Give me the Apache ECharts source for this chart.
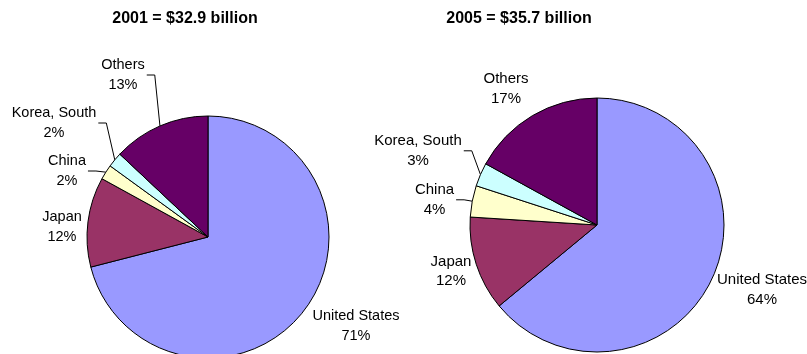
<!DOCTYPE html>
<html>
<head>
<meta charset="utf-8">
<script src="https://cdn.jsdelivr.net/npm/echarts@6/dist/echarts.min.js"></script>
<style>
  html, body { margin: 0; padding: 0; background: #ffffff; }
  #chart { width: 807px; height: 354px; }
</style>
</head>
<body>
<div id="chart"></div>
<script>
// Import market shares by supplying country, percent of total
const countries = ['United States', 'Japan', 'China', 'Korea, South', 'Others'];
const share2001 = [71, 12, 2, 2, 13];
const share2005 = [64, 12, 4, 3, 17];
const titles = ['2001 = $32.9 billion', '2005 = $35.7 billion'];

const sliceColors = ['#9999FF', '#993366', '#FFFFCC', '#CCFFFF', '#660066'];

// Where each two-line label block sits (centre of block), per pie
const labelSpots = [
  [[356, 326], [62, 227], [67, 171], [54, 123], [123, 75]],
  [[762, 290], [451, 271.5], [434.5, 199.8], [418, 150.8], [506, 89]]
];
// Which labels get a leader line back to their slice
const leaderShown = [
  [false, false, true, true, true],
  [false, false, true, true, false]
];

const FONT = '"Liberation Sans", Arial, sans-serif';

function makeLabelLayout(seriesIdx) {
  return function (params) {
    const spot = labelSpots[seriesIdx][params.dataIndex];
    const out = {
      x: spot[0],
      y: spot[1],
      align: 'center',
      verticalAlign: 'middle'
    };
    const pts = params.labelLinePoints;
    if (pts && leaderShown[seriesIdx][params.dataIndex]) {
      const w = params.labelRect.width;
      const edgeX = spot[0] + w / 2 + 2;
      out.labelLinePoints = [
        [pts[0][0], pts[0][1]],
        [edgeX + 8, spot[1]],
        [edgeX, spot[1]]
      ];
    }
    return out;
  };
}

function makePie(seriesIdx, values, center, radius, fontSize) {
  return {
    type: 'pie',
    center: center,
    radius: radius,
    startAngle: 90,
    clockwise: true,
    avoidLabelOverlap: false,
    silent: true,
    animation: false,
    emphasis: { disabled: true },
    itemStyle: { borderColor: '#000000', borderWidth: 1 },
    label: {
      show: true,
      position: 'outside',
      formatter: '{b}\n{c}%',
      color: '#000000',
      fontFamily: FONT,
      fontSize: fontSize,
      lineHeight: 19.5
    },
    labelLine: {
      show: true,
      smooth: false,
      lineStyle: { color: '#000000', width: 1 }
    },
    labelLayout: makeLabelLayout(seriesIdx),
    data: countries.map(function (name, i) {
      return {
        name: name,
        value: values[i],
        itemStyle: { color: sliceColors[i] },
        labelLine: { show: leaderShown[seriesIdx][i] }
      };
    })
  };
}

const titleStyle = {
  fontFamily: FONT,
  fontSize: 16,
  fontWeight: 'bold',
  color: '#000000'
};

const chart = echarts.init(document.getElementById('chart'), null, { renderer: 'canvas' });
chart.setOption({
  backgroundColor: '#ffffff',
  animation: false,
  title: [
    { text: titles[0], left: 185, top: 11, padding: 0, textAlign: 'center', textStyle: titleStyle },
    { text: titles[1], left: 519, top: 11, padding: 0, textAlign: 'center', textStyle: titleStyle }
  ],
  series: [
    makePie(0, share2001, [208, 237], 121, 14.5),
    makePie(1, share2005, [597, 225], 127, 15)
  ]
});
</script>
</body>
</html>
